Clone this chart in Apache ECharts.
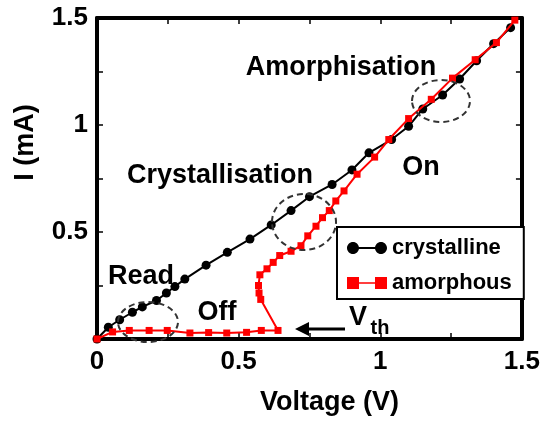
<!DOCTYPE html>
<html>
<head>
<meta charset="utf-8">
<script src="https://cdn.jsdelivr.net/npm/echarts@6/dist/echarts.min.js"></script>
<style>
  html, body { margin: 0; padding: 0; background: #fff; }
  #main { width: 543px; height: 421px; }
</style>
</head>
<body>
<div id="main"></div>
<script>
// I-V curves
var crystV = [0, 0.04, 0.08, 0.125, 0.16, 0.21, 0.245, 0.275, 0.31, 0.385, 0.46, 0.54, 0.615, 0.685, 0.75, 0.83, 0.9, 0.96, 1.04, 1.1, 1.15, 1.22, 1.28, 1.34, 1.4, 1.46];
var crystI = [0, 0.055, 0.09, 0.125, 0.15, 0.18, 0.215, 0.245, 0.28, 0.345, 0.405, 0.467, 0.533, 0.6, 0.665, 0.722, 0.79, 0.87, 0.932, 0.994, 1.075, 1.14, 1.215, 1.3, 1.38, 1.455];

var amorV = [0, 0.055, 0.114, 0.184, 0.248, 0.328, 0.394, 0.458, 0.528, 0.58, 0.639, 0.578, 0.572, 0.57, 0.575, 0.6, 0.622, 0.645, 0.685, 0.72, 0.744, 0.773, 0.796, 0.82, 0.843, 0.872, 0.918, 0.98, 1.03, 1.1, 1.18, 1.255, 1.335, 1.41, 1.475];
var amorI = [0, 0.033, 0.04, 0.04, 0.04, 0.028, 0.03, 0.028, 0.031, 0.04, 0.04, 0.185, 0.215, 0.25, 0.3, 0.328, 0.358, 0.39, 0.41, 0.436, 0.482, 0.527, 0.567, 0.6, 0.645, 0.692, 0.77, 0.85, 0.932, 1.03, 1.12, 1.219, 1.305, 1.385, 1.49];

var xTicks = [0, 0.5, 1, 1.5];
var yTicks = [0.5, 1, 1.5];

var FONT = '"Liberation Sans", Arial, Helvetica, sans-serif';

function pairs(xs, ys) {
  return xs.map(function (x, i) { return [x, ys[i]]; });
}
function tickFmt(list) {
  return function (v) {
    for (var i = 0; i < list.length; i++) {
      if (Math.abs(list[i] - v) < 1e-9) return String(list[i]);
    }
    return '';
  };
}
// circle as 4 bezier arcs, for the legend icon
function dot(cx, cy, r) {
  var k = r * 0.5523;
  return 'M' + (cx - r) + ',' + cy +
    'C' + (cx - r) + ',' + (cy - k) + ' ' + (cx - k) + ',' + (cy - r) + ' ' + cx + ',' + (cy - r) +
    'C' + (cx + k) + ',' + (cy - r) + ' ' + (cx + r) + ',' + (cy - k) + ' ' + (cx + r) + ',' + cy +
    'C' + (cx + r) + ',' + (cy + k) + ' ' + (cx + k) + ',' + (cy + r) + ' ' + cx + ',' + (cy + r) +
    'C' + (cx - k) + ',' + (cy + r) + ' ' + (cx - r) + ',' + (cy + k) + ' ' + (cx - r) + ',' + cy + 'Z';
}

var labelStyle = { fontFamily: FONT, fontSize: 26, fontWeight: 'bold', color: '#000' };
var xNameStyle = { fontFamily: FONT, fontSize: 27, fontWeight: 'bold', color: '#000', padding: [0, 0, 0, 40] };
var yNameStyle = { fontFamily: FONT, fontSize: 27, fontWeight: 'bold', color: '#000', padding: [0, 0, 0, 72] };
var frameLine = { show: true, onZero: false, lineStyle: { color: '#000', width: 4 } };
var inTick = { show: true, inside: true, length: 6, lineStyle: { color: '#000', width: 1.5 } };

function txt(text, x, y, size) {
  return {
    type: 'text', x: x, y: y, z: 100,
    style: {
      text: text, fill: '#000', fontFamily: FONT, fontSize: size || 27, fontWeight: 'bold',
      align: 'center', verticalAlign: 'middle'
    }
  };
}
function ell(cx, cy, rx, ry) {
  return {
    type: 'ellipse', z: 90,
    shape: { cx: cx, cy: cy, rx: rx, ry: ry },
    style: { fill: 'none', stroke: '#333', lineWidth: 2, lineDash: [6, 4] }
  };
}

var myChart = echarts.init(document.getElementById('main'));
myChart.setOption({
  animation: false,
  backgroundColor: '#fff',
  grid: { left: 97, right: 16, top: 18, bottom: 80 },
  legend: {
    orient: 'vertical',
    left: 337, top: 227,
    padding: [10, 12, 5, 10],
    borderColor: '#000', borderWidth: 2,
    backgroundColor: '#fff',
    itemWidth: 40, itemHeight: 12, itemGap: 13,
    textStyle: { fontFamily: FONT, fontSize: 22, fontWeight: 'bold', color: '#000', lineHeight: 22 },
    data: [
      { name: 'crystalline', icon: 'path://' + dot(6, 6, 6) + dot(34, 6, 6) + 'M6,5h28v2h-28z' },
      { name: 'amorphous', icon: 'path://M0,0h12v12h-12zM28,0h12v12h-12zM12,5.2h16v1.6h-16z' }
    ]
  },
  xAxis: [{
    type: 'value', min: 0, max: 1.5, interval: 0.25, position: 'bottom',
    axisLine: frameLine, axisTick: inTick, splitLine: { show: false },
    axisLabel: Object.assign({ margin: 10, formatter: tickFmt(xTicks) }, labelStyle),
    name: 'Voltage (V)', nameLocation: 'middle', nameGap: 50, nameTextStyle: xNameStyle
  }, {
    type: 'value', min: 0, max: 1.5, interval: 0.25, position: 'top',
    axisLine: frameLine, axisTick: inTick, splitLine: { show: false },
    axisLabel: { show: false }
  }],
  yAxis: [{
    type: 'value', min: 0, max: 1.5, interval: 0.25, position: 'left',
    axisLine: frameLine, axisTick: inTick, splitLine: { show: false },
    axisLabel: Object.assign({ margin: 9, formatter: tickFmt(yTicks) }, labelStyle),
    name: 'I (mA)', nameLocation: 'middle', nameGap: 58, nameTextStyle: yNameStyle
  }, {
    type: 'value', min: 0, max: 1.5, interval: 0.25, position: 'right',
    axisLine: frameLine, axisTick: inTick, splitLine: { show: false },
    axisLabel: { show: false }
  }],
  series: [{
    name: 'crystalline', type: 'line',
    data: pairs(crystV, crystI),
    showAllSymbol: true,
    symbol: 'circle', symbolSize: 9,
    itemStyle: { color: '#000' },
    lineStyle: { color: '#000', width: 2 },
    z: 3
  }, {
    name: 'amorphous', type: 'line',
    data: pairs(amorV, amorI),
    showAllSymbol: true,
    symbol: 'rect', symbolSize: 7,
    itemStyle: { color: '#ff0000' },
    lineStyle: { color: '#ff0000', width: 2 },
    z: 4
  }],
  graphic: [
    ell(148, 322, 30, 20),
    ell(304, 222, 32, 28),
    ell(441, 101, 29, 21),
    txt('Amorphisation', 341, 68),
    txt('Crystallisation', 220, 176),
    txt('On', 421, 168),
    txt('Read', 141, 277),
    txt('Off', 217, 313),
    txt('V', 358, 318),
    txt('th', 380, 328, 20),
    {
      type: 'polyline', z: 100,
      shape: { points: [[345, 329], [306, 329]] },
      style: { stroke: '#000', lineWidth: 3, fill: 'none' }
    },
    {
      type: 'polygon', z: 100,
      shape: { points: [[295, 329], [309, 322], [309, 336]] },
      style: { fill: '#000' }
    }
  ]
});
</script>
</body>
</html>
